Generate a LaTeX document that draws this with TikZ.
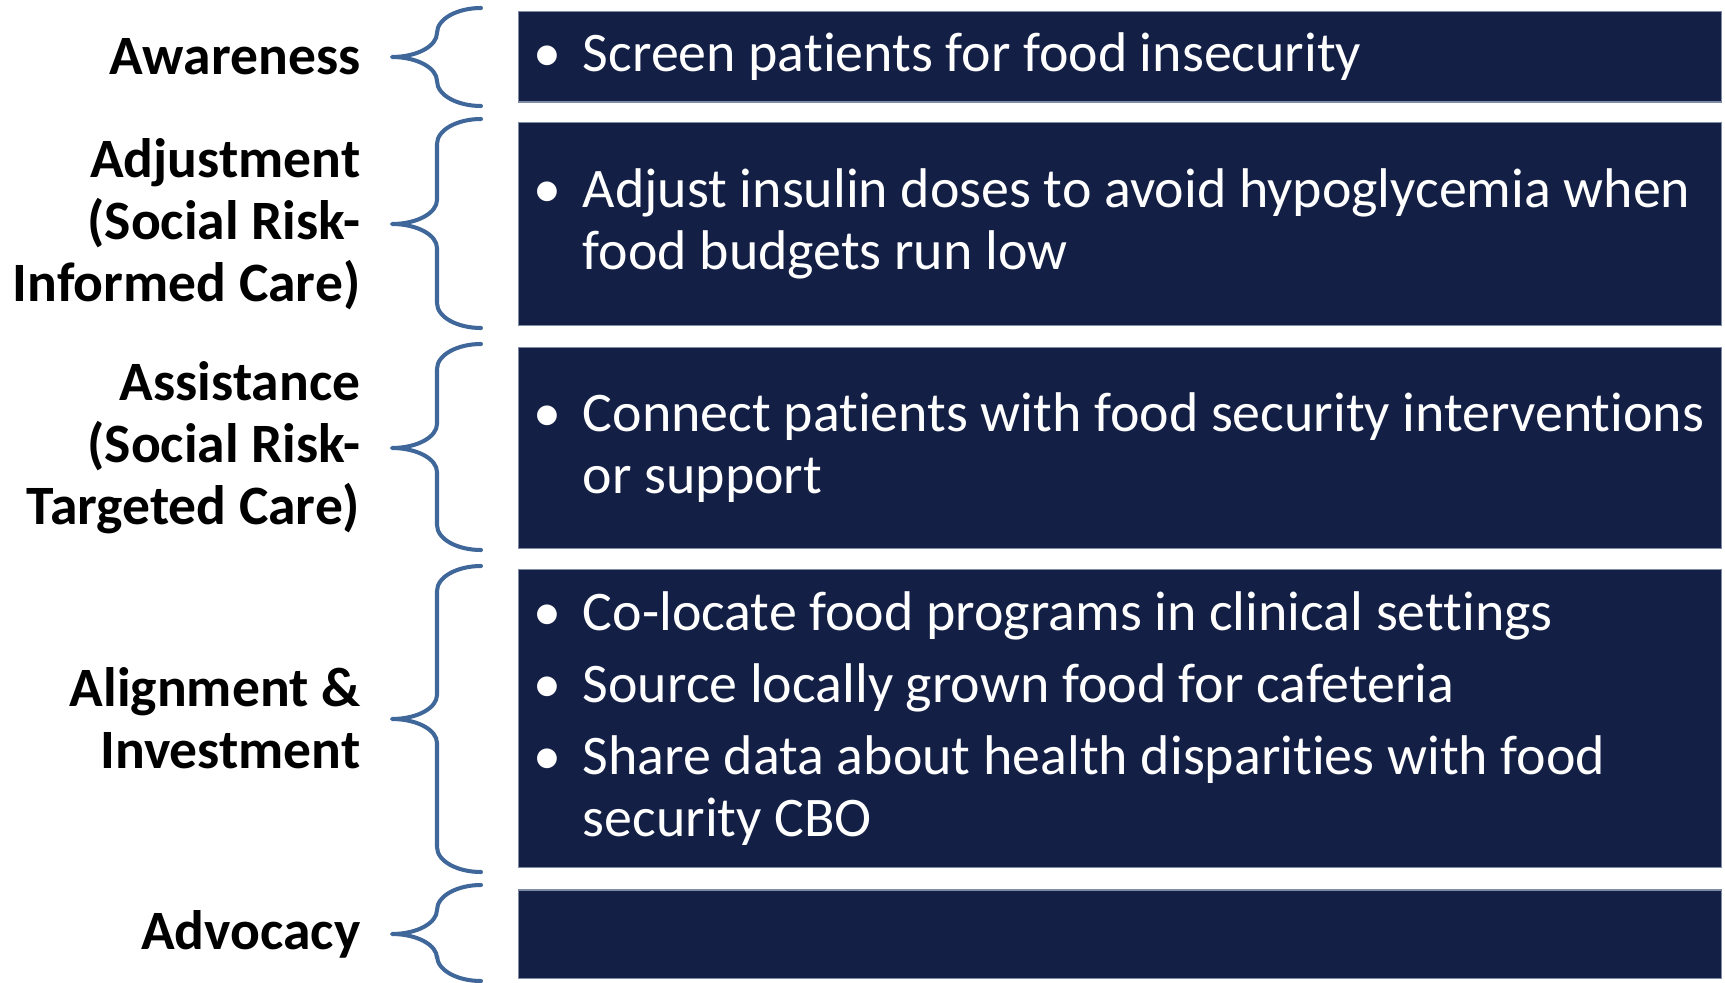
\documentclass[tikz,border=0pt]{standalone}
\usepackage{fontspec}
\setmainfont{Carlito}[Ligatures=NoCommon]
\usetikzlibrary{positioning}

\definecolor{navy}{HTML}{141F45}
\definecolor{bracecol}{HTML}{40679A}
\definecolor{edgecol}{HTML}{7F8CA6}

\tikzset{
  stage/.style={font=\fontsize{15.8}{17.6}\selectfont\bfseries, align=right, inner sep=0pt},
  panel/.style={fill=navy, draw=edgecol, line width=0.3pt, minimum width=12.02cm, inner sep=0pt},
  points/.style={font=\fontsize{15.9}{17.6}\selectfont, text=white, align=left, inner sep=0pt},
  curly/.style={draw=bracecol, line width=1.15pt, line cap=round, line join=round}
}
% bullet hanging to the left of an item
\newcommand{\itm}{\llap{\textbullet\hspace{6pt}}}

\begin{document}
\begin{tikzpicture}[x=0.01cm, y=-0.01cm]
    \useasboundingbox (0,0) rectangle (1725,982);
    % Dark panels, one per stage
    \node[panel, minimum height=0.90cm] (box1) at (1120,57) {};
    \node[panel, minimum height=2.02cm] (box2) at (1120,224) {};
    \node[panel, minimum height=2.00cm] (box3) at (1120,448) {};
    \node[panel, minimum height=2.97cm] (box4) at (1120,718.5) {};
    \node[panel, minimum height=0.88cm] (box5) at (1120,934) {};
    % Bullet points inside the panels
    \node[points, right=0.64cm of box1.west] (txt1) {\itm Screen patients for food insecurity};
    \node[points, right=0.64cm of box2.west] (txt2) {\itm Adjust insulin doses to avoid hypoglycemia when\\food budgets run low};
    \node[points, right=0.64cm of box3.west] (txt3) {\itm Connect patients with food security interventions\\or support};
    \node[points, right=0.64cm of box4.west] (txt4) {\itm Co-locate food programs in clinical settings\\[2.8pt]
        \itm Source locally grown food for cafeteria\\[2.8pt]
        \itm Share data about health disparities with food\\security CBO};
    % Stage names, right aligned
    \node[stage, left=1.57cm of box1.west] (lab1) {Awareness};
    \node[stage, left=1.57cm of box2.west] (lab2) {Adjustment\\(Social Risk-\\Informed Care)};
    \node[stage, left=1.57cm of box3.west] (lab3) {Assistance\\(Social Risk-\\Targeted Care)};
    \node[stage, left=1.57cm of box4.west] (lab4) {Alignment \&\\Investment};
    \node[stage, left=1.57cm of box5.west] (lab5) {Advocacy};
    % Curly brackets: top / tip / bottom
    \foreach \t/\m/\b in {8/57/106, 119/224/328, 344/448/550, 566/719/872, 885/934/981}
        \draw[curly] (481,\t) .. controls (457,\t) and (437,\t+11) .. (437,\t+25)
            -- (437,\m-24) .. controls (437,\m-11) and (417,\m) .. (392,\m)
            .. controls (417,\m) and (437,\m+11) .. (437,\m+24)
            -- (437,\b-25) .. controls (437,\b-11) and (457,\b) .. (481,\b);
\end{tikzpicture}
\end{document}
